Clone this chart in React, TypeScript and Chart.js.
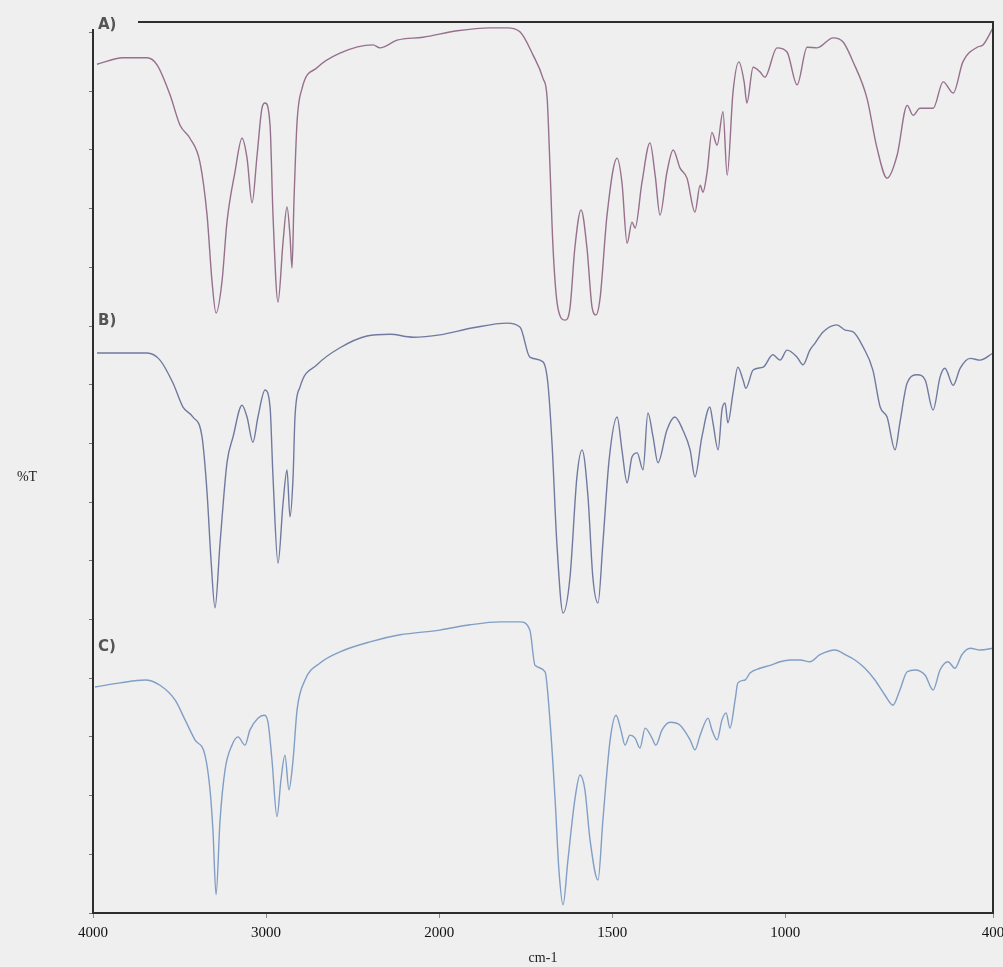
import React, { useEffect, useRef } from "react";
import Chart from "chart.js/auto";

// ---- Data (wavenumber in cm-1, transmittance in stacked %T units) ----
const aWavenumber = [3977,3827,3688,3630,3555,3497,3440,3382,3341,3312,3289,3255,3226,3180,3139,3110,3081,3052,3024,3006,2977,2960,2931,2902,2879,2862,2850,2839,2821,2792,2706,2573,2382,2342,2243,2093,1948,1853,1804,1766,1729,1700,1688,1680,1671,1657,1636,1622,1608,1590,1573,1558,1547,1535,1515,1486,1472,1457,1443,1434,1414,1391,1376,1362,1342,1324,1304,1284,1261,1246,1238,1226,1212,1197,1180,1168,1151,1134,1119,1111,1093,1073,1059,1024,995,966,937,908,862,833,804,764,735,706,677,648,631,611,573,544,515,487,446,429,400];
const aTransmittance = [144.6,145.7,145.7,144.5,139.4,134.2,132.0,127.9,118.9,107.5,102.2,107.5,117.7,126.2,132.0,128.6,121.0,129.1,137.1,138.0,134.2,118.9,104.1,114.3,120.3,115.5,109.9,121.1,134.8,140.5,144.0,146.5,147.9,147.4,148.7,149.2,150.3,150.8,150.8,150.1,146.2,142.2,138.8,127.4,113.3,103.1,101.0,103.1,113.3,119.8,113.3,103.1,101.9,104.8,118.9,128.6,124.5,114.1,117.7,116.7,124.5,131.2,125.7,118.9,126.2,130.0,126.9,125.2,119.4,124.0,122.8,126.2,133.0,130.8,136.5,125.7,139.9,145.0,141.6,138.0,144.1,143.3,142.4,147.4,146.7,141.1,147.5,147.4,149.1,148.4,145.0,138.8,130.3,125.2,129.1,137.6,135.9,137.1,137.1,141.6,139.7,145.0,147.5,147.9,150.8];

const bWavenumber = [3977,3827,3688,3613,3538,3480,3422,3370,3341,3318,3295,3266,3226,3191,3139,3110,3076,3047,3006,2977,2960,2931,2902,2879,2862,2844,2833,2804,2706,2573,2417,2284,2151,1998,1902,1804,1766,1738,1700,1686,1674,1660,1642,1622,1602,1587,1570,1556,1541,1527,1509,1486,1472,1457,1443,1428,1411,1397,1382,1368,1342,1319,1296,1275,1261,1241,1218,1209,1194,1183,1174,1166,1151,1137,1122,1114,1093,1064,1036,1015,995,966,949,929,914,891,851,827,804,775,747,726,706,683,669,648,619,596,573,553,539,515,495,466,437,400];
const bTransmittance = [95.4,95.4,95.4,94.2,90.3,86.2,84.5,81.1,71.6,60.1,52.0,63.0,76.7,81.1,86.5,84.5,80.2,84.5,89.1,86.2,74.3,59.6,69.8,75.5,67.5,74.3,84.5,89.6,93.4,96.3,98.3,98.6,98.1,98.5,99.7,100.5,99.8,94.7,93.9,90.3,80.1,63.0,51.1,57.2,74.3,78.9,70.9,57.2,52.8,63.0,77.2,84.5,78.9,73.3,77.7,78.4,75.5,85.2,81.1,76.7,82.3,84.5,82.3,78.9,74.3,81.1,86.2,83.5,78.9,85.7,86.9,83.5,88.6,93.0,90.8,89.4,92.5,93.0,95.1,94.2,95.9,94.7,93.4,95.9,97.1,99.0,100.2,99.3,99.0,96.4,92.5,86.2,84.5,78.9,83.5,90.3,91.7,90.8,85.7,91.3,92.8,89.9,92.8,94.5,94.2,95.4];

const cWavenumber = [3988,3844,3700,3613,3526,3468,3411,3353,3324,3307,3289,3266,3237,3197,3162,3122,3093,3047,3012,2989,2966,2937,2914,2891,2868,2844,2821,2775,2688,2573,2400,2226,1998,1911,1824,1766,1738,1723,1694,1680,1665,1654,1642,1628,1608,1593,1579,1564,1541,1527,1506,1489,1475,1463,1449,1434,1420,1405,1385,1374,1356,1333,1304,1275,1261,1246,1223,1212,1197,1183,1171,1160,1145,1137,1116,1102,1073,1044,1015,986,957,929,900,856,827,799,770,741,712,689,669,648,625,596,573,553,530,510,490,466,437,400];
const cTransmittance = [38.5,39.2,39.7,38.8,36.3,32.9,29.5,26.9,21.0,14.1,3.1,15.8,24.4,28.6,30.0,28.6,31.2,33.2,33.7,32.5,26.1,16.4,22.7,26.9,21.0,26.1,34.6,39.7,42.6,44.5,46.2,47.4,48.2,49.1,49.6,49.6,48.2,42.2,41.1,32.9,19.3,7.3,1.4,9.0,19.3,23.5,21.0,12.4,5.6,15.8,29.5,33.7,31.2,28.6,30.3,29.8,28.1,31.5,29.8,28.6,31.2,32.5,32.0,29.5,27.8,30.3,33.2,31.2,29.5,32.9,34.1,31.5,36.3,39.2,39.7,40.9,41.7,42.2,42.8,43.1,43.1,42.8,44.0,44.8,44.0,43.1,41.7,39.7,37.1,35.4,38.0,41.1,41.4,40.5,38.0,41.4,42.8,41.7,44.0,45.1,44.8,45.1];

const traceLabels = ["A)", "B)", "C)"];
const xTickWavenumbers = [4000, 3000, 2000, 1500, 1000, 400];
const yTickValues = [0, 10, 20, 30, 40, 50, 60, 70, 80, 90, 100, 110, 120, 130, 140, 150];

// Axis with a 2x expansion below 2000 cm-1 (as in the instrument plot)
const toAxis = (wn: number) => (wn >= 2000 ? 4000 - wn : 2000 + 2 * (2000 - wn));
const fromAxis = (u: number) => (u <= 2000 ? 4000 - u : 2000 - (u - 2000) / 2);

const BG = "#efefef";

const decor = {
  id: "decor",
  afterDraw(chart: any) {
    const { ctx, chartArea } = chart;
    const { left, right, top, bottom } = chartArea;
    const yScale = chart.scales.y;
    ctx.save();
    // frame top and right
    ctx.strokeStyle = "#2e2e2e";
    ctx.lineWidth = 2;
    ctx.beginPath();
    ctx.moveTo(left + 45, top);
    ctx.lineTo(right, top);
    ctx.lineTo(right, bottom);
    ctx.stroke();
    // gap at top of left axis behind "A)"
    ctx.fillStyle = BG;
    ctx.fillRect(left - 3, top - 3, 7, 10);
    // trace labels
    ctx.fillStyle = "#555";
    ctx.font = 'bold 15px "DejaVu Sans"';
    ctx.textBaseline = "middle";
    ctx.textAlign = "left";
    const levels = [151.2, 100.9, 45.3];
    traceLabels.forEach((t, i) => {
      ctx.fillText(t, left + 5, yScale.getPixelForValue(levels[i]));
    });
    // axis titles
    ctx.fillStyle = "#222";
    ctx.font = '14px "Liberation Serif"';
    ctx.textAlign = "center";
    ctx.fillText("%T", 27, (top + bottom) / 2 + 10);
    ctx.fillText("cm-1", (left + right) / 2, 958);
    ctx.restore();
  },
};

export default function App() {
  const ref = useRef<HTMLCanvasElement | null>(null);
  useEffect(() => {
    document.body.style.margin = "0";
    const mk = (wn: number[], t: number[]) => wn.map((w, i) => ({ x: toAxis(w), y: t[i] }));
    const chart = new Chart(ref.current as HTMLCanvasElement, {
      type: "line",
      data: {
        datasets: [
          { label: "A", data: mk(aWavenumber, aTransmittance), borderColor: "rgb(150,112,140)", borderWidth: 1.4 },
          { label: "B", data: mk(bWavenumber, bTransmittance), borderColor: "rgb(112,122,160)", borderWidth: 1.4 },
          { label: "C", data: mk(cWavenumber, cTransmittance), borderColor: "rgb(128,158,198)", borderWidth: 1.4 },
        ],
      },
      options: {
        responsive: false,
        animation: false,
        parsing: false as any,
        layout: { padding: { left: 89, top: 22, right: 10, bottom: 0 } },
        elements: { point: { radius: 0 }, line: { cubicInterpolationMode: "monotone" } },
        plugins: { legend: { display: false }, tooltip: { enabled: false } },
        scales: {
          x: {
            type: "linear",
            min: 0,
            max: 5200,
            afterBuildTicks: (s: any) => {
              s.ticks = xTickWavenumbers.map((w) => ({ value: toAxis(w) }));
            },
            afterFit: (s: any) => {
              s.height = 54;
              s.paddingLeft = 0;
              s.paddingRight = 0;
            },
            ticks: {
              autoSkip: false,
              maxRotation: 0,
              padding: 6,
              color: "#111",
              font: { family: "Liberation Serif", size: 15 },
              callback: (v: any) => String(Math.round(fromAxis(Number(v)))),
            },
            grid: { drawOnChartArea: false, tickLength: 5, color: "#888" },
            border: { color: "#2e2e2e", width: 2 },
          },
          y: {
            type: "linear",
            min: 0,
            max: 151.8,
            afterBuildTicks: (s: any) => {
              s.ticks = yTickValues.map((v) => ({ value: v }));
            },
            afterFit: (s: any) => {
              s.width = 4;
            },
            ticks: { display: false },
            grid: { drawOnChartArea: false, tickLength: 4, color: "#777" },
            border: { color: "#2e2e2e", width: 2 },
          },
        },
      },
      plugins: [decor],
    });
    return () => chart.destroy();
  }, []);
  return (
    <div style={{ position: "absolute", left: 0, top: 0, width: 1003, height: 967, background: BG }}>
      <canvas ref={ref} width={1003} height={967} />
    </div>
  );
}
